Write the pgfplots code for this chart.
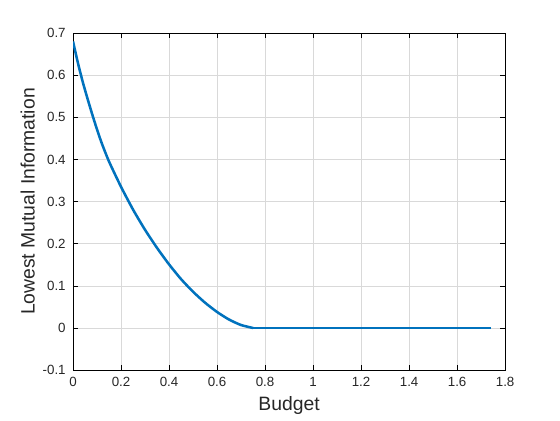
\documentclass[border=0pt]{standalone}
\usepackage{fontspec}
\setmainfont{Liberation Sans}
\usepackage{pgfplots}
\pgfplotsset{compat=1.18}
\definecolor{mblue}{rgb}{0,0.447,0.741}
\begin{document}
\begin{tikzpicture}[x=0.75pt,y=0.75pt]
\begin{axis}[
  scale only axis,
  width=324pt, height=252.75pt,
  xmin=0, xmax=1.8, ymin=-0.1, ymax=0.7,
  xtick={0,0.2,0.4,0.6,0.8,1,1.2,1.4,1.6,1.8},
  ytick={-0.1,0,0.1,0.2,0.3,0.4,0.5,0.6,0.7},
  xticklabels={0,0.2,0.4,0.6,0.8,1,1.2,1.4,1.6,1.8},
  yticklabels={-0.1,0,0.1,0.2,0.3,0.4,0.5,0.6,0.7},
  tick align=inside,
  major tick length=4pt,
  grid=major,
  grid style={gray!30, line width=0.5pt},
  axis line style={black, line width=0.6pt},
  tick style={black, line width=0.5pt},
  tick label style={font=\fontsize{10}{11}\selectfont, text=black!85},
  label style={font=\fontsize{14.5}{16}\selectfont, text=black!85},
  xlabel={Budget},
  ylabel={Lowest Mutual Information},
  xlabel style={yshift=0pt},
  ylabel style={yshift=-1pt},
  xticklabel style={yshift=-2pt},
  yticklabel style={xshift=-2pt},
]
\addplot[mblue, line width=1.9pt, smooth, tension=0.4] coordinates {
(0,0.68) (0.02,0.63) (0.04,0.585) (0.06,0.545) (0.08,0.507) (0.10,0.471)
(0.12,0.438) (0.15,0.395) (0.2,0.335) (0.25,0.281) (0.3,0.233) (0.35,0.19)
(0.4,0.151) (0.45,0.116) (0.5,0.086) (0.55,0.06) (0.6,0.038) (0.65,0.02)
(0.7,0.007) (0.75,0)
};
\addplot[mblue, line width=1.9pt] coordinates {(0.75,0) (1.74,0)};
\coordinate (bl) at (rel axis cs:-0.169,-0.148);
\coordinate (tr) at (rel axis cs:1.127,1.098);
\end{axis}
\pgfresetboundingbox
\path (bl) rectangle (tr);
\end{tikzpicture}
\end{document}
